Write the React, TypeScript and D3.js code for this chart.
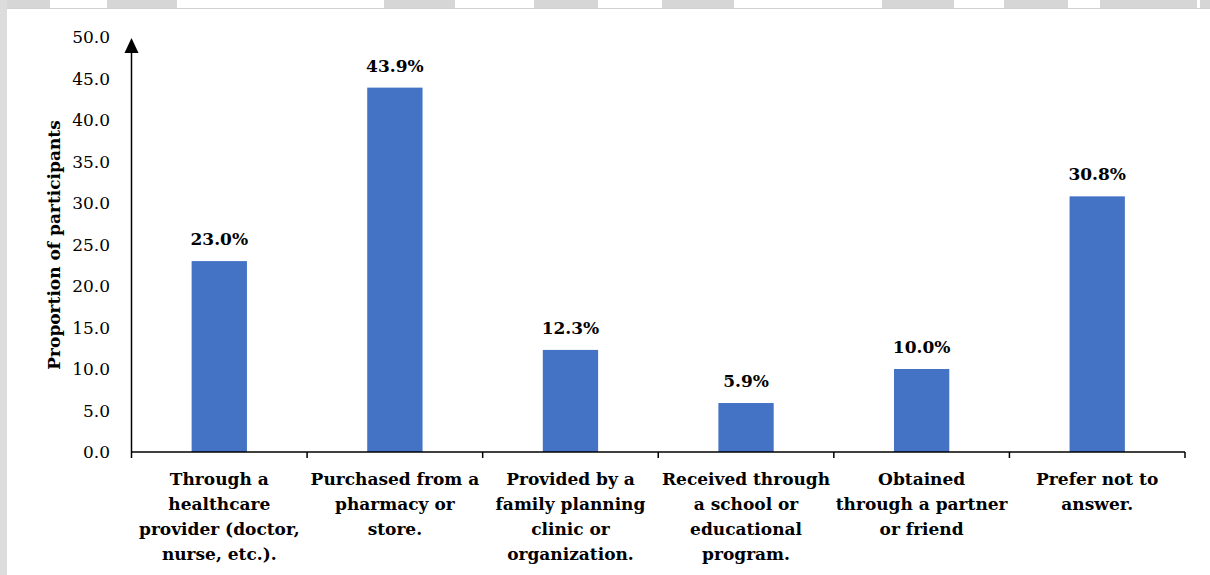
import React from "react";
import * as d3 from "d3";

const categories: string[][] = [
  ["Through a", "healthcare", "provider (doctor,", "nurse, etc.)."],
  ["Purchased from a", "pharmacy or", "store."],
  ["Provided by a", "family planning", "clinic or", "organization."],
  ["Received through", "a school or", "educational", "program."],
  ["Obtained", "through a partner", "or friend"],
  ["Prefer not to", "answer."],
];
const values: number[] = [23.0, 43.9, 12.3, 5.9, 10.0, 30.8];
const yTicks: number[] = [0, 5, 10, 15, 20, 25, 30, 35, 40, 45, 50];
const yTitle = "Proportion of participants";

// decorative top strip segments (screen capture chrome)
const topSegments: [number, number][] = [
  [0, 50], [107, 177], [384, 455], [534, 598], [662, 734], [882, 954], [1004, 1068], [1100, 1197], [1200, 1210],
];

const W = 1210;
const H = 575;
const FONT = "'DejaVu Serif', serif";

export default function App() {
  const x0 = 131.5;
  const x1 = 1185;
  const yZero = 452;
  const yTop = 37;
  const x = d3
    .scaleBand<number>()
    .domain(values.map((_, i) => i))
    .range([x0, x1])
    .paddingInner(0)
    .paddingOuter(0);
  const y = d3.scaleLinear().domain([0, 50]).range([yZero, yTop]);
  const bw = x.bandwidth() * 0.315;

  const boundaries = d3.range(values.length + 1).map((i) => x0 + i * x.bandwidth());

  return (
    <div style={{ position: "fixed", left: 0, top: 0 }}>
      <svg width={W} height={H} style={{ display: "block", background: "#fff" }}>
        {/* chrome */}
        {topSegments.map(([a, b], i) => (
          <rect key={"ts" + i} x={a} y={0} width={b - a} height={8} fill="#d6d6d6" />
        ))}
        <line x1={0} x2={W} y1={8.5} y2={8.5} stroke="#d0d0d0" strokeWidth={1} />
        <rect x={0} y={0} width={7} height={H} fill="#dcdcdc" />

        {/* bars */}
        {values.map((v, i) => {
          const cx = (x(i) as number) + x.bandwidth() / 2;
          return (
            <g key={"b" + i}>
              <rect x={cx - bw / 2} y={y(v)} width={bw} height={yZero - y(v)} fill="#4472C4" />
              <text
                x={cx}
                y={y(v) - 16}
                textAnchor="middle"
                fontFamily={FONT}
                fontWeight="bold"
                fontSize={17}
                fill="#000"
              >
                {v.toFixed(1) + "%"}
              </text>
            </g>
          );
        })}

        {/* y axis */}
        <line x1={x0} x2={x0} y1={yZero} y2={50} stroke="#000" strokeWidth={1.5} />
        <path d={`M${x0},${38} L${x0 - 7},${53} L${x0 + 7},${53} Z`} fill="#000" />
        {yTicks.map((t) => (
          <text
            key={"yt" + t}
            x={110}
            y={y(t)}
            dy="0.36em"
            textAnchor="end"
            fontFamily={FONT}
            fontSize={17}
            fill="#000"
          >
            {t.toFixed(1)}
          </text>
        ))}
        <text
          transform={`translate(${60},${(yZero + 38) / 2}) rotate(-90)`}
          textAnchor="middle"
          fontFamily={FONT}
          fontWeight="bold"
          fontSize={17}
          fill="#000"
        >
          {yTitle}
        </text>

        {/* x axis */}
        <line x1={x0} x2={x1} y1={yZero} y2={yZero} stroke="#000" strokeWidth={1.5} />
        {boundaries.map((bx, i) => (
          <line key={"xt" + i} x1={bx} x2={bx} y1={yZero} y2={yZero + 6} stroke="#000" strokeWidth={1.5} />
        ))}
        {categories.map((lines, i) => {
          const cx = (x(i) as number) + x.bandwidth() / 2;
          return (
            <text key={"xl" + i} textAnchor="middle" fontFamily={FONT} fontWeight="bold" fontSize={17} fill="#000">
              {lines.map((ln, j) => (
                <tspan key={j} x={cx} y={485 + j * 25}>
                  {ln}
                </tspan>
              ))}
            </text>
          );
        })}
      </svg>
    </div>
  );
}
